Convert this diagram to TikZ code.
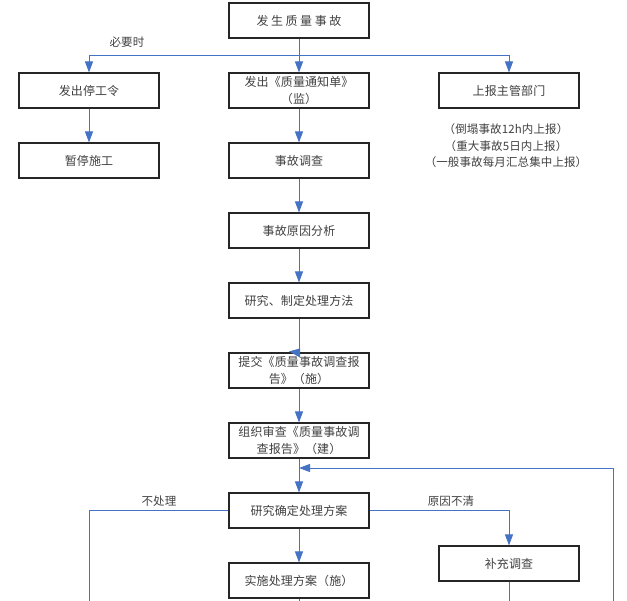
\documentclass[tikz,border=0pt]{standalone}
\usepackage{fontspec}
\setmainfont{Noto Sans CJK SC}[LetterSpace=1]
\newfontfamily\widefont{Noto Sans CJK SC}[LetterSpace=21]
\usetikzlibrary{arrows.meta}
\definecolor{lineblue}{HTML}{4472C4}
\definecolor{txtgray}{HTML}{404040}
\tikzset{
  box/.style={draw=black!85, line width=1.1pt, fill=white, minimum width=140pt, minimum height=35pt,
              inner sep=2pt, align=center, text=txtgray, font=\fontsize{12pt}{17pt}\selectfont},
  conn/.style={draw=lineblue, line width=0.9pt},
  arr/.style={conn, -{Triangle[width=8pt,length=11pt]}},
  lbl/.style={text=txtgray, font=\fontsize{11.5pt}{16pt}\selectfont, inner sep=0pt}
}
\begin{document}
\begin{tikzpicture}[x=1pt,y=-1pt]
\useasboundingbox (0,0) rectangle (627,601);
% nodes
\node[box] (n1) at (299,20.5) {\widefont 发生质量事故};
\node[box] (n2L) at (89,90.5) {发出停工令};
\node[box] (n2M) at (299,90.5) {发出《质量通知单》\\（监）};
\node[box] (n2R) at (509,90.5) {上报主管部门};
\node[box] (n3L) at (89,160.5) {暂停施工};
\node[box] (n3M) at (299,160.5) {事故调查};
\node[box] (n4) at (299,230.5) {事故原因分析};
\node[box] (n5) at (299,300.5) {研究、制定处理方法};
\node[box] (n6) at (299,370.5) {提交《质量事故调查报\\告》（施）};
\node[box] (n7) at (299,440.5) {组织审查《质量事故调\\查报告》（建）};
\node[box] (n8) at (299,510.5) {研究确定处理方案};
\node[box] (n9) at (299,580.5) {实施处理方案（施）};
\node[box] (n10) at (509,563.5) {补充调查};
% labels
\node[lbl, align=center, font=\fontsize{11.5pt}{16.5pt}\selectfont] (notes) at (506,146)
  {（倒塌事故12h内上报）\\（重大事故5日内上报）\\（一般事故每月汇总集中上报）};
\node[lbl] (l1) at (127,42) {必要时};
\node[lbl] (l2) at (159,501) {不处理};
\node[lbl] (l3) at (451,501) {原因不清};
% coordinates
\coordinate (j1) at (299,55.5);
\coordinate (fb) at (613,601);
\coordinate (c468) at (299,468);
\coordinate (cL) at (89,601);
\coordinate (e9) at (299,601);
\coordinate (e10) at (509,601);
% connectors
\draw[arr] (n1.south) -- (n2M.north);
\draw[arr] (j1) -| (n2L.north);
\draw[arr] (j1) -| (n2R.north);
\draw[arr] (n2L.south) -- (n3L.north);
\draw[arr] (n2M.south) -- (n3M.north);
\draw[arr] (n3M.south) -- (n4.north);
\draw[arr] (n4.south) -- (n5.north);
\draw[conn] (n5.south) -- (n6.north);
\fill[lineblue] ([xshift=-10pt,yshift=1pt]n6.north) -- ([xshift=1pt,yshift=-5pt]n6.north) -- ([xshift=1pt,yshift=4pt]n6.north) -- cycle;
\draw[arr] (n6.south) -- (n7.north);
\draw[arr] (n7.south) -- (n8.north);
\draw[arr] (fb) |- (c468);
\draw[conn] (n8.west) -| (cL);
\draw[arr] (n8.east) -| (n10.north);
\draw[arr] (n8.south) -- (n9.north);
\draw[conn] (n9.south) -- (e9);
\draw[conn] (n10.south) -- (e10);
\end{tikzpicture}
\end{document}
